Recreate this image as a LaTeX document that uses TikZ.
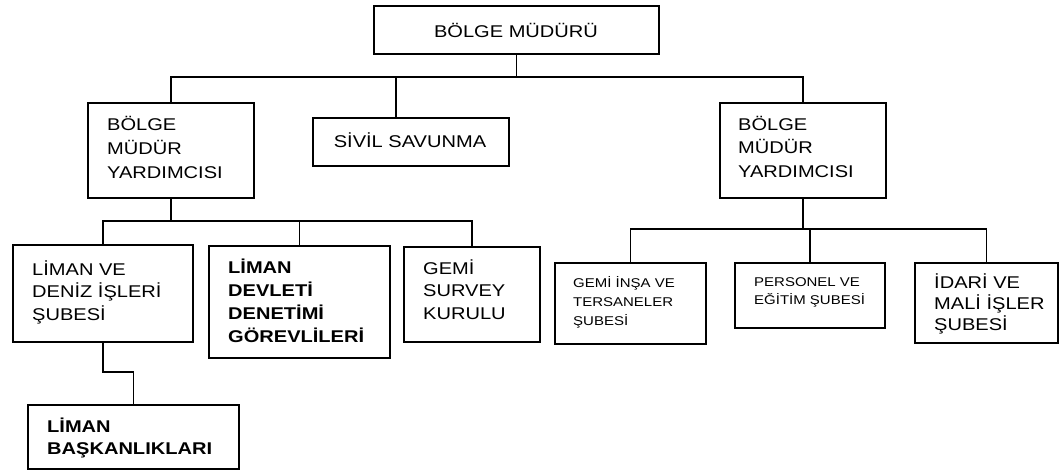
\documentclass[tikz,border=0pt]{standalone}
\usepackage{fontspec}
\setmainfont{Liberation Sans}[FakeStretch=1.18]
\usetikzlibrary{calc}

% left-aligned block of lines whose reference point is the first baseline
\newcommand{\rowsof}[1]{\begin{tabular}[t]{@{}l@{}}#1\end{tabular}}

\tikzset{
  unit/.style={draw, rectangle, line width=1.7pt, inner sep=0pt, anchor=north west},
  caption/.style={inner sep=0pt, anchor=base west, font=\fontsize{17}{#1}\selectfont},
  boldcaption/.style={inner sep=0pt, anchor=base west, font=\fontsize{17}{#1}\selectfont\bfseries},
  smallcaption/.style={inner sep=0pt, anchor=base west, font=\fontsize{12.7}{#1}\selectfont},
  link/.style={line width=1.7pt, line cap=rect},
}

\begin{document}
\begin{tikzpicture}[x=1pt, y=-1pt]
\useasboundingbox (0,0) rectangle (1060,469);

% ---- boxes ----
\node[unit, minimum width=285pt, minimum height=48pt] (top) at (373,5) {};
\node[unit, minimum width=166pt, minimum height=95pt] (bmyL) at (87,102) {};
\node[unit, minimum width=196pt, minimum height=48pt] (sivil) at (312,117) {};
\node[unit, minimum width=166pt, minimum height=95pt] (bmyR) at (719,102) {};
\node[unit, minimum width=180pt, minimum height=97pt] (lvd) at (12,244) {};
\node[unit, minimum width=181pt, minimum height=112pt] (ldd) at (208,245) {};
\node[unit, minimum width=136pt, minimum height=95pt] (gsk) at (403,246) {};
\node[unit, minimum width=211pt, minimum height=64pt] (lb) at (27,404) {};
\node[unit, minimum width=151pt, minimum height=81pt] (git) at (554,262) {};
\node[unit, minimum width=150pt, minimum height=65pt] (pes) at (734,262) {};
\node[unit, minimum width=143pt, minimum height=80pt] (ims) at (914,262) {};

% ---- texts ----
\node[caption=20, anchor=base] (top-t) at (516,37) {BÖLGE MÜDÜRÜ};
\node[caption=24] (bmyL-t) at (107,130) {\rowsof{BÖLGE\\MÜDÜR\\YARDIMCISI}};
\node[caption=20, anchor=base] (sivil-t) at (410,147) {SİVİL SAVUNMA};
\node[caption=23.5] (bmyR-t) at (738,130) {\rowsof{BÖLGE\\MÜDÜR\\YARDIMCISI}};
\node[caption=22.5] (lvd-t) at (32,275) {\rowsof{LİMAN VE\\DENİZ İŞLERİ\\ŞUBESİ}};
\node[boldcaption=23] (ldd-t) at (228,273) {\rowsof{LİMAN\\DEVLETİ\\DENETİMİ\\GÖREVLİLERİ}};
\node[caption=22.5] (gsk-t) at (423,274) {\rowsof{GEMİ\\SURVEY\\KURULU}};
\node[boldcaption=22] (lb-t) at (47,432.5) {\rowsof{LİMAN\\BAŞKANLIKLARI}};
\node[smallcaption=19] (git-t) at (573,287) {\rowsof{GEMİ İNŞA VE\\TERSANELER\\ŞUBESİ}};
\node[smallcaption=18.7] (pes-t) at (754,286) {\rowsof{PERSONEL VE\\EĞİTİM ŞUBESİ}};
\node[caption=20.5] (ims-t) at (934,288.5) {\rowsof{İDARİ VE\\MALİ İŞLER\\ŞUBESİ}};

% ---- bus levels ----
\coordinate (busTop) at (0,77);
\coordinate (sivTap) at (396,77);
\coordinate (busL) at (0,221);
\coordinate (elbow) at (0,372);
\coordinate (busR) at (0,229);

% ---- connectors ----
\draw[link] (bmyL.north) -- (bmyL.north |- busTop) -- (bmyR.north |- busTop) -- (bmyR.north);
\draw[link] (top.south) -- (top.south |- busTop);
\draw[link] (sivTap) -- (sivTap |- sivil.north);

\draw[link] (bmyL.south) -- (bmyL.south |- busL);
\draw[link] (lvd.north) -- (lvd.north |- busL) -- (gsk.north |- busL) -- (gsk.north);
\draw[link] (ldd.north) -- (ldd.north |- busL);
\draw[link] (lvd.south) -- (lvd.south |- elbow) -| (lb.north);

\draw[link] (bmyR.south) -- (bmyR.south |- busR);
\draw[link] (git.north) -- (git.north |- busR) -- (ims.north |- busR) -- (ims.north);
\draw[link] (pes.north) -- (pes.north |- busR);
\end{tikzpicture}
\end{document}
